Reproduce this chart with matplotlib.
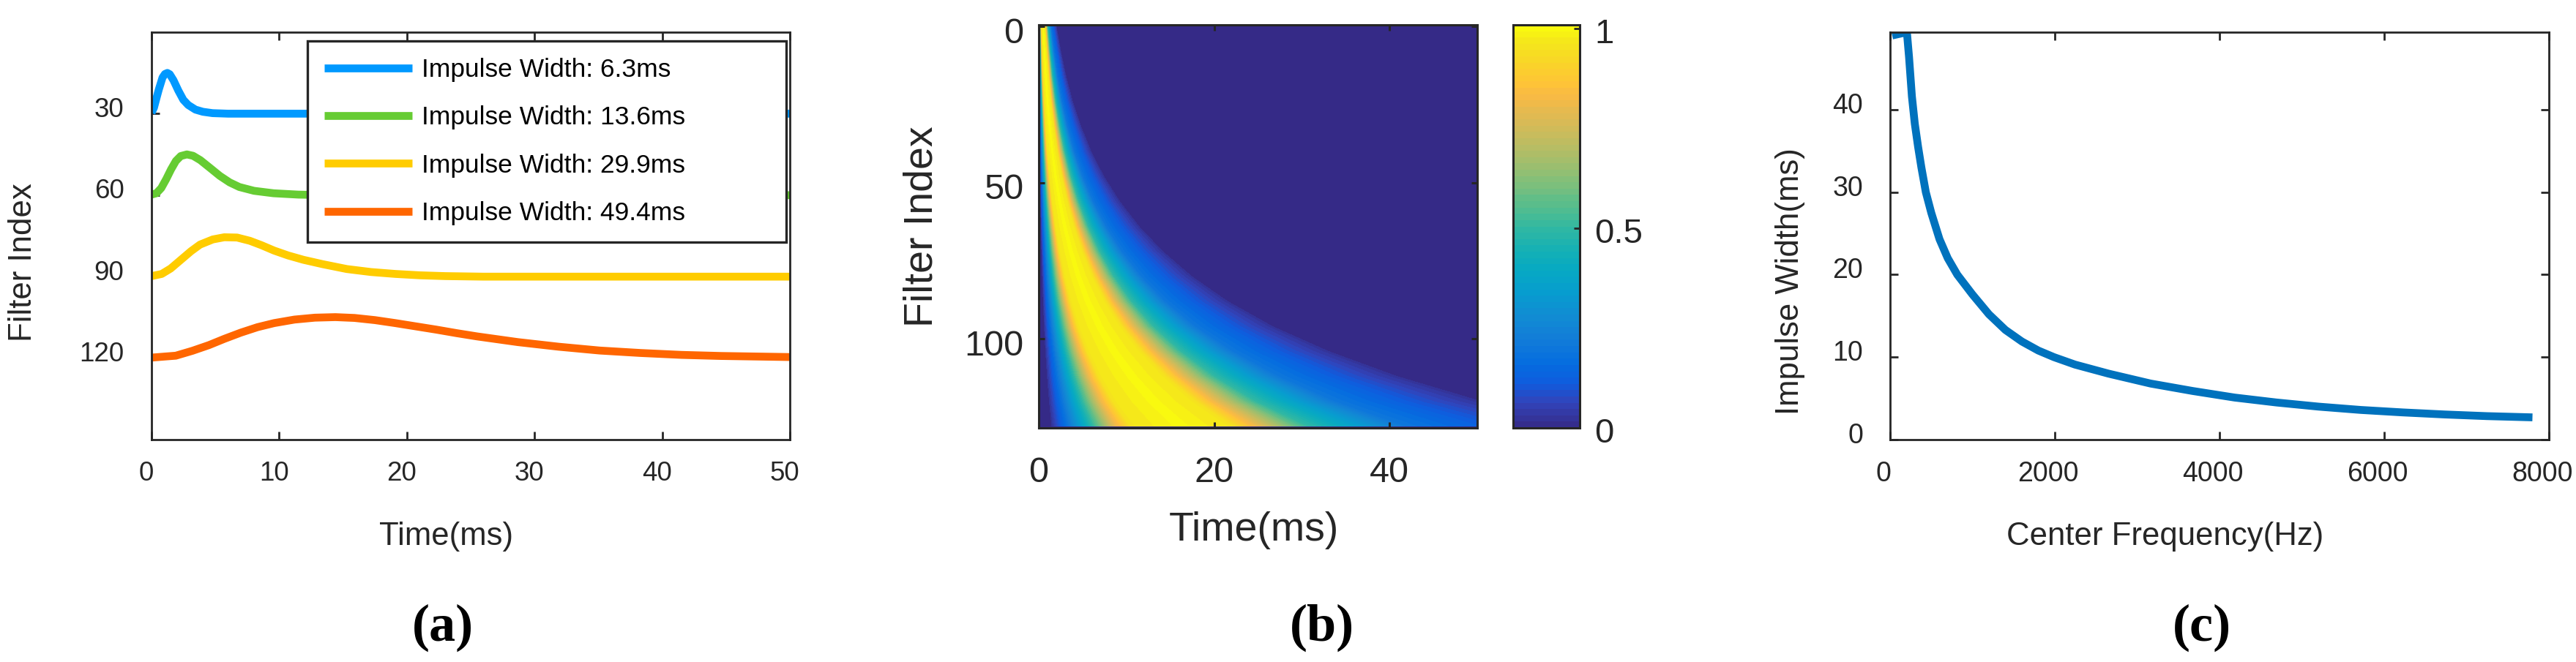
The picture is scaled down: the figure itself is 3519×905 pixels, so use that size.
import numpy as np
import matplotlib
matplotlib.use("Agg")
import matplotlib.pyplot as plt
from matplotlib.colors import LinearSegmentedColormap
from matplotlib.transforms import ScaledTranslation

plt.rcParams['font.family'] = ['Liberation Sans', 'DejaVu Sans']

# ---------------- panel (a): impulse envelopes at their filter index ----------------
t_blue = [0, 0.19, 0.38, 0.57, 0.86, 1.05, 1.24, 1.43, 1.72, 2.10, 2.49, 2.87, 3.44, 4.02, 4.78, 6.0, 50]
y_blue = [29.7, 27.8, 24.4, 21.1, 16.7, 15.4, 15.0, 15.5, 17.7, 21.5, 24.9, 26.8, 28.5, 29.3, 29.8, 30.0, 30.0]

t_green = [0, 0.38, 0.76, 1.15, 1.53, 1.91, 2.29, 2.77, 3.25, 3.82, 4.59, 5.35, 6.12, 6.88, 8.03, 9.56, 11.5, 14.0, 50]
y_green = [59.8, 59.3, 57.4, 54.1, 50.5, 47.4, 45.6, 45.0, 45.5, 47.1, 50.0, 52.9, 55.3, 57.0, 58.4, 59.3, 59.8, 60.0, 60.0]

t_yellow = [0, 0.8, 1.5, 2.3, 3.1, 3.8, 4.8, 5.7, 6.7, 7.7, 8.6, 9.6, 10.7, 11.9, 13.4, 15.3, 17.2, 19.1, 21.0, 23.0, 26.0, 50]
y_yellow = [89.8, 89.0, 87.0, 83.8, 80.6, 78.2, 76.3, 75.5, 75.6, 76.8, 78.4, 80.4, 82.2, 83.8, 85.4, 87.2, 88.3, 89.0, 89.5, 89.8, 90.0, 90.0]

t_orange = [0, 1.9, 3.2, 4.5, 5.7, 7.0, 8.3, 9.6, 11.2, 12.8, 14.4, 15.9, 17.5, 19.1, 20.7, 22.3, 23.9, 25.5,
            28.7, 31.9, 35.1, 38.3, 41.5, 44.6, 50]
y_orange = [119.8, 119.1, 117.3, 115.2, 112.9, 110.6, 108.6, 107.1, 105.8, 105.1, 104.9, 105.2, 106.0, 107.1, 108.3,
            109.5, 110.8, 112.0, 114.1, 115.8, 117.2, 118.1, 118.8, 119.2, 119.6]

legend_labels = ['Impulse Width: 6.3ms', 'Impulse Width: 13.6ms', 'Impulse Width: 29.9ms', 'Impulse Width: 49.4ms']
line_colors = ['#0099ff', '#66cc33', '#ffcc00', '#ff6600']

# ---------------- panel (b): normalised envelopes, per filter row ----------------
# time (ms) where each row crosses the given level: rising side -> peak -> falling side
filter_rows = [0, 8, 16, 24, 32, 40, 48, 56, 64, 72, 80, 88, 96, 104, 112, 120, 128]
crossing_levels = [0.02, 0.2, 0.5, 0.8, 0.96, 1.0, 0.96, 0.8, 0.5, 0.2, 0.02]
t_rise02 = [0.05, 0.06, 0.07, 0.09, 0.12, 0.14, 0.18, 0.22, 0.27, 0.34, 0.42, 0.52, 0.64, 0.79, 0.98, 1.21, 1.50]
t_rise20 = [0.11, 0.14, 0.17, 0.21, 0.26, 0.33, 0.41, 0.51, 0.63, 0.78, 0.96, 1.18, 1.46, 1.82, 2.24, 2.77, 3.44]
t_rise50 = [0.20, 0.25, 0.31, 0.39, 0.48, 0.60, 0.74, 0.92, 1.14, 1.41, 1.74, 2.15, 2.66, 3.30, 4.08, 5.04, 6.25]
t_rise80 = [0.28, 0.35, 0.43, 0.54, 0.67, 0.83, 1.04, 1.29, 1.60, 1.97, 2.44, 3.01, 3.72, 4.62, 5.71, 7.06, 8.75]
t_rise96 = [0.34, 0.43, 0.53, 0.66, 0.82, 1.01, 1.26, 1.56, 1.94, 2.40, 2.96, 3.66, 4.52, 5.61, 6.94, 8.57, 10.63]
t_peak = [0.52, 0.65, 0.81, 1.00, 1.25, 1.55, 1.92, 2.39, 2.96, 3.67, 4.52, 5.59, 6.92, 8.58, 10.61, 13.10, 16.25]
t_fall96 = [0.70, 0.88, 1.09, 1.35, 1.68, 2.08, 2.59, 3.22, 3.99, 4.94, 6.09, 7.53, 9.31, 11.55, 14.28, 17.64, 21.88]
t_fall80 = [0.80, 1.00, 1.24, 1.54, 1.92, 2.38, 2.96, 3.68, 4.56, 5.64, 6.96, 8.60, 10.64, 13.20, 16.32, 20.16, 25.00]
t_fall50 = [0.98, 1.23, 1.52, 1.89, 2.35, 2.92, 3.63, 4.51, 5.59, 6.91, 8.53, 10.54, 13.03, 16.17, 19.99, 24.70, 30.63]
t_fall20 = [1.34, 1.68, 2.08, 2.58, 3.22, 3.99, 4.96, 6.16, 7.64, 9.45, 11.66, 14.41, 17.82, 22.11, 27.34, 33.77, 41.88]
t_fall02 = [2.00, 2.50, 3.10, 3.85, 4.80, 5.95, 7.40, 9.20, 11.40, 14.10, 17.40, 21.50, 26.60, 33.00, 40.80, 50.40, 62.50]

# ---------------- panel (c): impulse width vs centre frequency ----------------
center_freq = [25, 204, 230, 265, 300, 340, 380, 434, 500, 600, 700, 816, 1000, 1200, 1400, 1600, 1800, 1990,
               2245, 2653, 3163, 3673, 4184, 4694, 5204, 5714, 6224, 6735, 7245, 7800]
impulse_width = [49.0, 49.4, 46.4, 41.6, 38.3, 35.5, 33.0, 30.0, 27.5, 24.3, 22.0, 20.0, 17.6, 15.2, 13.3, 11.9,
                 10.8, 10.0, 9.1, 8.0, 6.8, 5.9, 5.1, 4.5, 4.0, 3.6, 3.3, 3.05, 2.85, 2.7]

# parula-like colormap (MATLAB default)
parula_pos = [0, 4, 7, 10, 14, 18, 21, 25, 28, 32, 35, 39, 42, 46, 49, 52, 54, 57, 60, 63]
parula_rgb = [(0.2081, 0.1663, 0.5292), (0.1959, 0.2645, 0.7279), (0.0591, 0.3598, 0.8683),
              (0.0165, 0.4266, 0.8786), (0.0723, 0.4887, 0.8467), (0.0641, 0.5570, 0.8240),
              (0.0265, 0.6137, 0.8135), (0.0267, 0.6642, 0.7607), (0.0843, 0.6928, 0.7062),
              (0.2178, 0.7250, 0.6193), (0.3482, 0.7424, 0.5473), (0.5300, 0.7491, 0.4661),
              (0.6473, 0.7456, 0.4188), (0.7858, 0.7356, 0.3633), (0.8824, 0.7274, 0.3217),
              (0.9739, 0.7314, 0.2666), (0.9990, 0.7653, 0.2164), (0.9789, 0.8271, 0.1633),
              (0.9589, 0.8949, 0.1132), (0.9763, 0.9831, 0.0538)]
parula = LinearSegmentedColormap.from_list('parula', list(zip(np.array(parula_pos) / 63, parula_rgb)), N=256)

W, H = 3519, 905
fig = plt.figure(figsize=(W / 100, H / 100), dpi=100)
dark = '#262626'


def box(left, top, right, bottom):
    return fig.add_axes([left / W, (H - bottom) / H, (right - left) / W, (bottom - top) / H])


def nudge(labels, dx, dy):
    off = ScaledTranslation(dx / 100, dy / 100, fig.dpi_scale_trans)
    for lab in labels:
        lab.set_transform(lab.get_transform() + off)


def style(ax, lw, tick_len, size, xpad, ypad):
    for s in ax.spines.values():
        s.set_linewidth(lw)
        s.set_color(dark)
    ax.tick_params(direction='in', top=True, right=True, length=tick_len, width=lw,
                   color=dark, labelcolor=dark, labelsize=size)
    ax.tick_params(axis='x', pad=xpad)
    ax.tick_params(axis='y', pad=ypad)


# ---- (a) ----
ax = box(207, 44, 1079, 601)
for t, y, c, lab in zip([t_blue, t_green, t_yellow, t_orange], [y_blue, y_green, y_yellow, y_orange],
                        line_colors, legend_labels):
    ax.plot(t, y, color=c, lw=7.7, label=lab, solid_capstyle='butt', solid_joinstyle='round')
ax.set_xlim(0, 50)
ax.set_ylim(150, 0)
ax.set_xticks([0, 10, 20, 30, 40, 50])
ax.set_yticks([30, 60, 90, 120])
style(ax, 2.0, 8, 26.5, 21, 27)
nudge(ax.get_yticklabels(), 0, 9)
nudge(ax.get_xticklabels(), -7, 0)
ax.set_xlabel('Time(ms)', fontsize=31.5, color=dark, va='center')
ax.xaxis.set_label_coords(0.462, (601 - 733) / 557)
ax.set_ylabel('Filter Index', fontsize=31.5, color=dark, va='center')
ax.yaxis.set_label_coords(-0.2018, 0.4345)
leg = ax.legend(loc='upper left', bbox_to_anchor=(0.2443, 0, 0.75, 0.9776), mode='expand', borderaxespad=0,
                fontsize=25.5, handlelength=3.39, handletextpad=0.37, labelspacing=0.915, borderpad=0.636,
                fancybox=False, framealpha=1, edgecolor=dark)
leg.get_frame().set_linewidth(2.4)

# ---- (b) ----
ax = box(1419, 34, 2018, 585)
ax.set_facecolor(parula(0.0))
knots = np.array([t_rise02, t_rise20, t_rise50, t_rise80, t_rise96, t_peak,
                  t_fall96, t_fall80, t_fall50, t_fall20, t_fall02]).T
rows = np.repeat(np.array(filter_rows, dtype=float)[:, None], knots.shape[1], axis=1)
vals = np.tile(np.array(crossing_levels), (len(filter_rows), 1))
cs = ax.contourf(knots, rows, vals, levels=np.linspace(0, 1.01, 65), cmap=parula, antialiased=False)
ax.set_xlim(0, 50)
ax.set_ylim(128.5, -0.5)
ax.set_xticks([0, 20, 40])
ax.set_yticks([0, 50, 100])
style(ax, 2.2, 6, 35, 28, 15)
nudge(ax.get_yticklabels(), 0, -5)
ax.set_xlabel('Time(ms)', fontsize=40, color=dark, va='center')
ax.xaxis.set_label_coords(0.49, (585 - 725) / 551)
ax.set_ylabel('Filter Index', fontsize=40, color=dark, va='center')
ax.yaxis.set_label_coords(-0.267, 0.5)

cax = box(2067, 34, 2158, 585)
cb = fig.colorbar(cs, cax=cax, ticks=[0, 0.5, 1])
cb.ax.set_yticklabels(['0', '0.5', '1'])
cb.outline.set_linewidth(2.2)
cb.outline.set_edgecolor(dark)
cax.tick_params(direction='in', length=6, width=2, color=dark, labelcolor=dark, labelsize=34, pad=14.5)
nudge(cax.get_yticklabels(), 0, -3)

# ---- (c) ----
ax = box(2582, 44, 3482, 601)
ax.plot(center_freq, impulse_width, color='#0072bd', lw=7.7, solid_capstyle='butt', solid_joinstyle='round')
ax.set_xlim(0, 8000)
ax.set_ylim(0, 49.4)
ax.set_xticks([0, 2000, 4000, 6000, 8000])
ax.set_yticks([0, 10, 20, 30, 40])
style(ax, 2.0, 8, 27, 21, 26.5)
nudge(ax.get_yticklabels(), 0, 9)
nudge(ax.get_xticklabels(), -9, 0)
ax.set_xlabel('Center Frequency(Hz)', fontsize=31.5, color=dark, va='center')
ax.xaxis.set_label_coords(0.417, (601 - 733) / 557)
ax.set_ylabel('Impulse Width(ms)', fontsize=31.5, color=dark, va='center')
ax.yaxis.set_label_coords(-0.152, 0.388)

for x, s in zip([605, 1806, 3008], ['(a)', '(b)', '(c)']):
    fig.text(x / W, (H - 858) / H, s, ha='center', va='center', fontsize=52, fontweight='bold',
             family='Liberation Serif')

fig.savefig('out.png', dpi=100)
